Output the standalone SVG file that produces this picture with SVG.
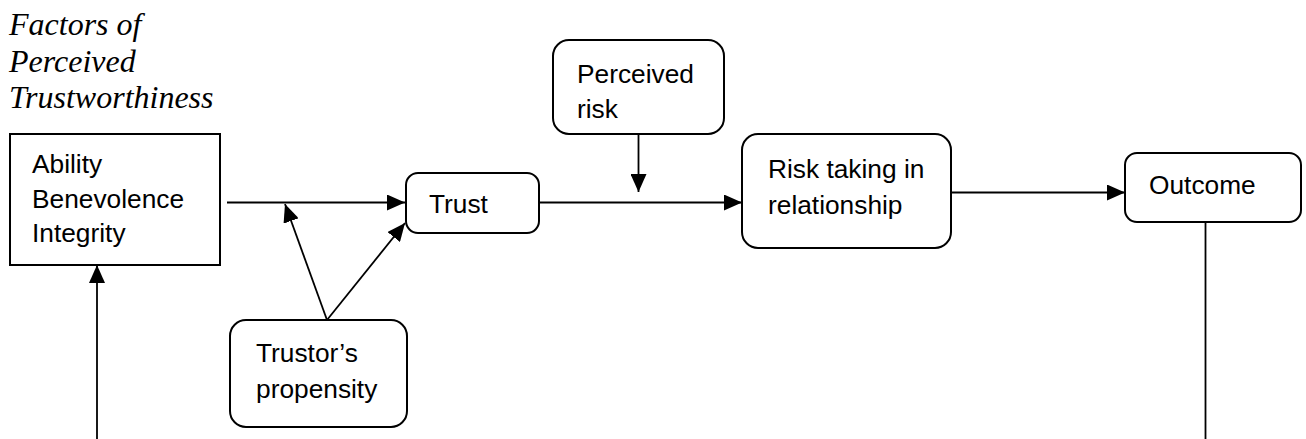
<svg xmlns="http://www.w3.org/2000/svg" width="1306" height="439" viewBox="0 0 1306 439">
<style>
.box{fill:#fff;stroke:#000;stroke-width:2}
.lbl{font-family:"Liberation Sans",Arial,sans-serif;font-size:26.3px;fill:#000}
.ttl{font-family:"Liberation Serif","Times New Roman",serif;font-style:italic;font-size:32px;fill:#000}
.ln{fill:none;stroke:#000;stroke-width:1.8}
</style>
<defs>
<marker id="ah" viewBox="0 0 18 16" refX="18" refY="8" markerWidth="18" markerHeight="16" markerUnits="userSpaceOnUse" orient="auto">
<path d="M0,0 L18,8 L0,16 Z" fill="#000"/>
</marker>
</defs>
<g id="title">
<text class="ttl" x="9" y="35">Factors of</text>
<text class="ttl" x="9" y="72">Perceived</text>
<text class="ttl" x="9" y="108">Trustworthiness</text>
</g>
<g id="factors">
<rect class="box" x="10" y="134" width="210" height="131"/>
<text class="lbl" x="32" y="173">Ability</text>
<text class="lbl" x="32" y="208">Benevolence</text>
<text class="lbl" x="32" y="242">Integrity</text>
</g>
<g id="trust">
<rect class="box" x="406" y="173" width="133" height="60" rx="12"/>
<text class="lbl" x="429" y="213">Trust</text>
</g>
<g id="propensity">
<rect class="box" x="230" y="320" width="177" height="107" rx="16"/>
<text class="lbl" x="256" y="362">Trustor’s</text>
<text class="lbl" x="256" y="398">propensity</text>
</g>
<g id="perceived-risk">
<rect class="box" x="553" y="40" width="171" height="94" rx="16"/>
<text class="lbl" x="577" y="83">Perceived</text>
<text class="lbl" x="577" y="118">risk</text>
</g>
<g id="risk-taking">
<rect class="box" x="742" y="134" width="209" height="114" rx="16"/>
<text class="lbl" x="768" y="178">Risk taking in</text>
<text class="lbl" x="768" y="214">relationship</text>
</g>
<g id="outcome">
<rect class="box" x="1125" y="153" width="176" height="69" rx="12"/>
<text class="lbl" x="1149" y="194">Outcome</text>
</g>
<g id="connectors">
<line class="ln" x1="227" y1="202.5" x2="405" y2="202.5" marker-end="url(#ah)"/>
<line class="ln" x1="327" y1="320" x2="285" y2="204" marker-end="url(#ah)"/>
<line class="ln" x1="327" y1="320" x2="405" y2="223" marker-end="url(#ah)"/>
<line class="ln" x1="539" y1="202.5" x2="742" y2="202.5" marker-end="url(#ah)"/>
<line class="ln" x1="638.5" y1="134" x2="638.5" y2="192" marker-end="url(#ah)"/>
<line class="ln" x1="951" y1="192.5" x2="1125" y2="192.5" marker-end="url(#ah)"/>
<line class="ln" x1="1205.5" y1="222" x2="1205.5" y2="439"/>
<line class="ln" x1="97" y1="439" x2="97" y2="265" marker-end="url(#ah)"/>
</g>
</svg>
